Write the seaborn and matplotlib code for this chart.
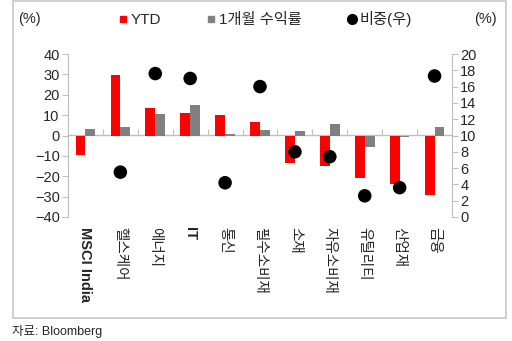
import numpy as np
import pandas as pd
import matplotlib
matplotlib.use("Agg")
import matplotlib.pyplot as plt
from matplotlib.lines import Line2D
from matplotlib.patches import Rectangle
import seaborn as sns

categories = ["MSCI India", "헬스케어", "에너지", "IT", "통신", "필수소비재", "소재",
              "자유소비재", "유틸리티", "산업재", "금융"]
ytd = [-9.7, 29.6, 13.5, 11.0, 10.0, 6.4, -13.3, -15.1, -21.0, -24.0, -29.2]
one_month = [3.4, 4.4, 10.7, 14.8, 0.8, 2.8, 2.0, 5.4, -5.7, -0.8, 4.4]
weight = [np.nan, 5.5, 17.6, 17.0, 4.2, 16.0, 8.0, 7.4, 2.6, 3.6, 17.3]
left_ticks = [-40, -30, -20, -10, 0, 10, 20, 30, 40]
right_ticks = [0, 2, 4, 6, 8, 10, 12, 14, 16, 18, 20]
series_names = ["YTD", "1개월 수익률"]

sns.set_style("white")
plt.rcParams["font.family"] = ["Liberation Sans", "Noto Sans CJK KR", "DejaVu Sans"]

RED = "#ff0000"
GRAY = "#808080"
AXC = "#bfbfbf"

df = pd.DataFrame({
    "cat": categories * 2,
    "val": ytd + one_month,
    "series": [series_names[0]] * len(categories) + [series_names[1]] * len(categories),
})

fig = plt.figure(figsize=(5.12, 3.41), dpi=100)
ax = fig.add_axes([68 / 512, 1 - 217 / 341, (452 - 68) / 512, (217 - 54) / 341])

sns.barplot(data=df, x="cat", y="val", hue="series", order=categories,
            hue_order=series_names, palette=[RED, GRAY], width=0.56,
            saturation=1, legend=False, ax=ax, errorbar=None, linewidth=0)
ax.set_xlim(-0.5, len(categories) - 0.5)
ax.set_ylim(-40, 40)
ax.set_yticks(left_ticks)
ax.set_xlabel("")
ax.set_ylabel("")

for s in ["top", "right", "bottom"]:
    ax.spines[s].set_visible(False)
ax.spines["left"].set_color(AXC)
ax.tick_params(axis="y", direction="out", length=4, color=AXC, labelsize=10.5, pad=2)
ax.tick_params(axis="x", length=0, labelsize=10.5, pad=7)
for lab in ax.get_xticklabels():
    lab.set_rotation(270)
    lab.set_va("top")
    lab.set_ha("center")
    if lab.get_text() in ("MSCI India", "IT"):
        lab.set_fontweight("bold")

# zero line with group separator ticks
sec = ax.secondary_xaxis(0.5)
sec.set_xticks(np.arange(len(categories) - 1) + 0.5)
sec.set_xticklabels([])
for sp in sec.spines.values():
    sp.set_color(AXC)
    sp.set_linewidth(1.0)
sec.tick_params(direction="out", length=4, color=AXC)

ax2 = ax.twinx()
sns.scatterplot(x=np.arange(len(categories)), y=weight, color="black", s=95,
                edgecolor="none", ax=ax2, legend=False)
ax2.set_ylim(0, 20)
ax2.set_yticks(right_ticks)
for s in ["top", "left", "bottom"]:
    ax2.spines[s].set_visible(False)
ax2.spines["right"].set_color(AXC)
ax2.tick_params(axis="y", direction="out", length=4, color=AXC, labelsize=10.5, pad=2)
ax2.set_xlim(-0.5, len(categories) - 0.5)

# unit labels
fig.text(18 / 512, 1 - 19 / 341, "(%)", fontsize=10.5, va="center", ha="left")
fig.text(497 / 512, 1 - 19 / 341, "(%)", fontsize=10.5, va="center", ha="right")

handles = [
    Line2D([], [], marker="s", linestyle="none", color=RED, markersize=5),
    Line2D([], [], marker="s", linestyle="none", color=GRAY, markersize=5),
    Line2D([], [], marker="o", linestyle="none", color="black", markersize=7),
]
fig.legend(handles, ["YTD", "1개월 수익률", "비중(우)"], loc="center",
           bbox_to_anchor=(0.518, 1 - 19 / 341), ncol=3, frameon=False,
           fontsize=11, handlelength=0.6, handletextpad=0.2, columnspacing=3.0)

fig.patches.append(Rectangle((13 / 512, 1 - 318 / 341), (506 - 13) / 512, (318 - 1) / 341,
                             transform=fig.transFigure, fill=False,
                             edgecolor="#c8c8c8", linewidth=1.2))

fig.text(12 / 512, 1 - 331 / 341, "자료: Bloomberg", fontsize=9, va="center", ha="left")

fig.savefig("out.png", dpi=100)
